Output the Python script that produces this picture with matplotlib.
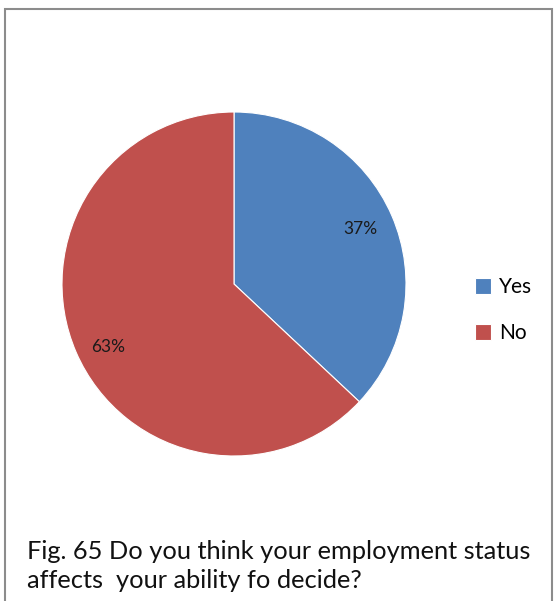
import matplotlib
matplotlib.use("Agg")
import matplotlib.pyplot as plt
from matplotlib.patches import Rectangle

labels = ["Yes", "No"]
values = [37, 63]
colors = ["#4F81BD", "#C0504D"]
caption = "Fig. 65 Do you think your employment status\naffects  your ability fo decide?"

W, H = 555, 601
fig = plt.figure(figsize=(W / 100, H / 100), dpi=100)
plt.rcParams['font.family'] = ['Lato', 'DejaVu Sans']

# border
fig.patches.append(Rectangle((4.5 / W, -0.05), 547.5 / W, 1 - 9.5 / H + 0.05,
                             transform=fig.transFigure, fill=False,
                             edgecolor="#8c8c8c", linewidth=1.5))

cx, cy, r = 234, 284, 172
ax = fig.add_axes([(cx - r) / W, 1 - (cy + r) / H, 2 * r / W, 2 * r / H])
wedges, texts, autotexts = ax.pie(values, colors=colors, startangle=90, counterclock=False,
                                  autopct=lambda p: f"{p:.0f}%", pctdistance=0.8,
                                  textprops=dict(fontsize=12.5, color="#1a1a1a"),
                                  wedgeprops=dict(linewidth=0.8, edgecolor="white"))
x1, y1 = autotexts[1].get_position()
autotexts[1].set_position((x1, y1 - 0.05))
ax.set_xlim(-1, 1)
ax.set_ylim(-1, 1)
ax.set_aspect("equal")
ax.axis("off")

leg = fig.legend(wedges, labels, loc="center left", bbox_to_anchor=(456 / W, 1 - 310 / H),
                 frameon=False, fontsize=15, handlelength=0.8, handleheight=0.8,
                 labelspacing=1.25, handletextpad=0.35)

fig.text(27 / W, 1 - 566 / H, caption, fontsize=18.3, va="center", ha="left",
         linespacing=1.3, color="#111111")

fig.savefig("out.png", dpi=100)
